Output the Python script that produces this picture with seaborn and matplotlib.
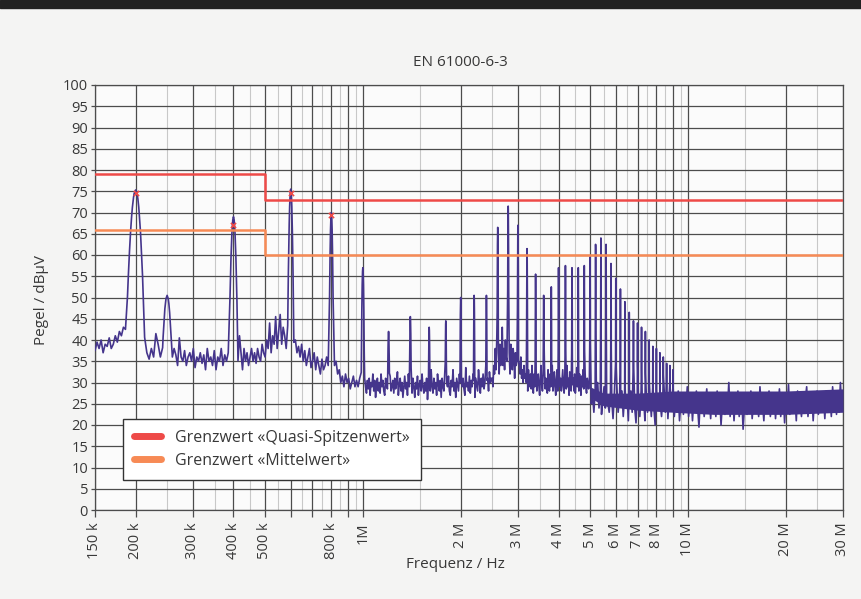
import numpy as np
import pandas as pd
import seaborn as sns
import matplotlib.pyplot as plt
from matplotlib.lines import Line2D
from matplotlib.patches import Rectangle
from matplotlib.ticker import NullFormatter

# limit lines (kHz, dBuV)
qp_freq_khz = [150, 500, 500, 30000]
qp_level = [79, 79, 73, 73]
avg_freq_khz = [150, 500, 500, 30000]
avg_level = [66, 66, 60, 60]

# quasi-peak measurement marks
mark_freq_khz = [200, 400, 600, 800]
mark_level = [74.5, 67, 74.6, 69.3]

# harmonic spikes (kHz, peak dBuV)
peak_freq_khz = [200, 250, 400, 600, 800, 1000, 1200, 1400, 1600, 1800, 2000,
                 2200, 2400, 2600, 2800, 3000, 3200, 3400, 3600, 3800, 4000,
                 4200, 4400, 4600, 4800, 5000, 5200, 5400, 5600, 5800, 6000,
                 6200, 6400, 6600, 6800, 7000, 7200, 7400, 7600, 7800, 8000,
                 8200, 8400, 8600, 8800, 9000]
peak_level = [75.3, 50.5, 69, 75.5, 70, 57, 42, 45.5, 43, 44.5, 50,
              50.5, 50.5, 66.5, 71.5, 67, 61.5, 55.5, 50.5, 52.5, 57,
              57.5, 57, 57, 57.5, 59.5, 62.5, 64, 62.5, 58, 54.5,
              52, 49, 46.5, 44.5, 44, 43, 42, 40, 38.5, 38,
              37, 36, 34.5, 34, 33]

# noise floor, segment by segment (kHz edges)
seg_edges_khz = [150, 200, 250, 400, 600, 800, 1000, 2500, 3200, 5000, 9000, 30000]
floor_a = [37.5, 39.5, 38, 40, 37, 39, 38.5, 40.5, 38, 39, 41, 39.5, 42, 41, 43,
           42.5, 40, 37.5, 38, 38]
floor_b = [38, 36, 35, 42.5, 40, 37, 35.5, 38, 36, 41.5, 39, 36, 35, 36]
floor_c = [36, 37, 35, 36, 38, 36.5, 34, 40.5, 36, 35, 37.5, 34, 36, 37, 35, 38,
           33.5, 36, 35, 37, 34.5, 36.5, 33, 38, 35, 36, 34, 37.5, 33, 36, 35, 38,
           34, 36.5, 35, 37, 34, 36]
floor_d = [36, 39, 40, 35, 41, 37, 33, 38, 35, 37, 34, 36, 38, 35, 37, 34.5, 38,
           36, 35, 39, 37, 36, 40, 38, 44, 37, 41, 39, 45.5, 38, 42, 46, 39, 43,
           41, 38, 36, 39]
floor_e = [40, 41.5, 39, 40, 37, 38.5, 36, 39, 35, 37.5, 34, 36, 38, 33.5, 35, 37,
           33, 36, 34, 32, 35.5, 33, 34, 36, 34, 35]
floor_f = [36, 37, 34, 35, 32, 33, 30, 31.5, 29, 32, 30, 31, 28.5, 30, 31.5, 29,
           30.5, 29, 31, 30]
floor_g = [30, 28, 31, 29, 27.5, 30.5, 28.5, 31, 27, 30, 29, 32, 28, 30.5, 26.5,
           29.5, 31, 28, 30, 27.5, 32, 29, 30.5, 28, 27, 31, 29.5, 28.5, 30, 26,
           31.5, 28, 29, 30.5, 27.5, 31, 28.5, 30, 32.5, 27, 29.5, 31, 28, 30,
           26.5, 29, 31.5, 28.5, 30, 27, 32, 29, 28, 30.5, 27.5, 31, 29, 26.5, 30,
           28.5, 31.5, 27, 29.5, 30.5, 28, 32, 29, 27.5, 30, 28, 31, 26, 29.5,
           30.5, 28, 33, 29, 27.5, 31, 28.5, 30, 27, 32, 29.5, 28, 30.5, 26.5, 31,
           29, 28, 32.5, 27.5, 30, 29, 31.5, 28, 27, 30.5, 29, 33, 28, 30, 26.5,
           31, 29.5, 28, 32, 27.5, 30, 29, 31, 28.5, 27, 33.5, 29, 30, 28, 31.5,
           27.5, 30.5, 29, 32, 28, 26.5, 31, 29.5, 28, 33, 30, 27.5, 31, 29, 32,
           28.5, 30, 34, 29, 31, 28, 32.5, 30, 31]
floor_h = [31, 29, 34, 32, 38, 33, 41, 35, 37, 32, 39, 34, 36, 43, 34, 38, 33, 40,
           36, 35, 42, 34, 37, 32, 39, 35, 33, 38, 36, 31, 37, 34, 35, 33, 30, 34,
           32, 36, 31, 33, 30, 34, 31, 32, 30]
floor_i = [31, 28, 33, 30, 29, 32, 28.5, 34, 30, 27.5, 32, 29, 31, 33, 28, 30.5,
           32, 29, 27, 31, 34, 29.5, 28, 32, 30, 33, 28.5, 31, 29, 27.5, 33, 30,
           28, 32, 29, 31.5, 34, 28, 30, 32.5, 29, 27, 31, 33, 28, 30, 32, 29, 31,
           28, 30.5, 33, 29, 27.5, 32, 30, 28.5, 34, 29, 31, 27, 32.5, 30, 28, 33,
           29.5, 31, 28, 32, 27.5, 30, 33.5, 29, 31, 28, 32, 30, 27, 31.5, 29, 33,
           28.5, 30, 32, 29, 27.5, 31, 30, 28.5, 30]
floor_j = [29, 25, 27, 23, 28, 26, 30, 24, 27, 22.5, 26, 29, 24, 27.5, 25, 23, 28,
           26, 21.5, 27, 24.5, 29, 23, 26, 25, 28, 22, 26.5, 24, 27, 21, 25.5, 28,
           23, 26, 24, 20.5, 27, 25, 22, 28, 24, 26, 21, 27.5, 23, 25, 26.5, 22,
           28, 24, 20, 26, 23.5, 27, 25, 22, 26, 28.5, 23, 25, 21.5, 27, 24, 26]
floor_k = [27, 22, 26, 23, 28, 21, 25, 27.5, 22.5, 26, 24, 29, 22, 25.5, 27, 21,
           26, 23, 28, 24, 19.5, 26.5, 23, 27, 22, 25, 28.5, 23.5, 26, 21.5, 27,
           24, 25.5, 22, 28, 23, 26.5, 20, 25, 27, 22.5, 26, 24, 30, 22, 25, 27.5,
           21, 26, 23.5, 28, 22, 25, 26.5, 19, 24, 27, 22.5, 26, 23, 28, 21.5,
           25.5, 27, 23, 26, 22, 29, 24, 25, 21, 27, 23.5, 26, 28, 22, 25, 24,
           27.5, 21.5, 26, 23, 28.5, 22, 25.5, 27, 20.5, 26, 24, 29.5, 22.5, 25,
           27, 23, 26.5, 21, 28, 24, 25, 22, 27, 23.5, 26, 29, 22, 25.5, 24, 27.5,
           21, 26, 23, 28, 22.5, 25, 27, 24, 26.5, 21.5, 28, 23, 25, 27, 22, 29,
           24, 26, 22.5, 28, 23, 30, 24, 27]

# solid core of the dense noise above 5 MHz (where the trace looks filled)
band_freq_khz = [5000, 5500, 7000, 9000, 12000, 20000, 30000]
band_lo = [26.5, 24.5, 23.5, 23, 22.5, 22.5, 23]
band_hi = [29, 27.5, 27.5, 28, 28, 28, 28.5]

xtick_khz = [150, 200, 300, 400, 500, 600, 700, 800, 900, 1000, 2000, 3000, 4000,
             5000, 6000, 7000, 8000, 9000, 10000, 20000, 30000]
xtick_labels = ["150 k", "200 k", "300 k", "400 k", "500 k", "", "", "800 k", "",
                "1M", "2 M", "3 M", "4 M", "5 M", "6 M", "7 M", "8 M", "",
                "10 M", "20 M", "30 M"]
xminor_khz = [250, 350, 450, 550, 650, 750, 850, 950, 1500, 2500, 3500, 4500,
              5500, 6500, 7500, 8500, 9500, 15000, 25000]

trace_color = "#45358c"
qp_color = "#ee4a48"
avg_color = "#f78a55"
text_color = "#383838"

# --- build trace: floor samples plus RBW-shaped spikes
floor_parts = [floor_a, floor_b, floor_c, floor_d, floor_e, floor_f, floor_g,
               floor_h, floor_i, floor_j, floor_k]
ff, fv = [], []
for i, vals in enumerate(floor_parts):
    last = i == len(floor_parts) - 1
    ff.append(np.geomspace(seg_edges_khz[i], seg_edges_khz[i + 1], len(vals), endpoint=last))
    fv.append(np.array(vals, dtype=float))
ff = np.concatenate(ff)
fv = np.concatenate(fv)

pk_f = np.array(peak_freq_khz, dtype=float)
pk_v = np.array(peak_level, dtype=float)
curv = 0.2  # dB per kHz^2 (filter shape)


def spike_env(f):
    d = f[:, None] - pk_f[None, :]
    return (pk_v[None, :] - curv * d ** 2).max(axis=1)


floor_vals = np.maximum(fv, spike_env(ff))
offs = np.array([-14, -10, -7, -4.5, -2, 0, 2, 4.5, 7, 10, 14])
sf = (pk_f[:, None] + offs[None, :]).ravel()
sv = spike_env(sf)
keep = sv > np.interp(sf, ff, fv)

trace = pd.DataFrame({
    "freq": np.concatenate([ff, sf[keep]]) * 1e3,
    "level": np.concatenate([floor_vals, sv[keep]]),
}).sort_values("freq")

limits = pd.DataFrame({
    "freq": np.array(qp_freq_khz + avg_freq_khz) * 1e3,
    "level": qp_level + avg_level,
    "kind": ["qp"] * 4 + ["avg"] * 4,
})

sns.set_theme(style="white")
plt.rcParams["font.family"] = ["Open Sans", "DejaVu Sans"]

fig = plt.figure(figsize=(8.62, 5.99), dpi=100, facecolor="#f4f4f3")
ax = fig.add_axes([95 / 862, 1 - 510 / 599, 748 / 862, 425 / 599])
ax.set_facecolor("#fbfbfb")
ax.set_xscale("log")

ax.fill_between(np.array(band_freq_khz) * 1e3, band_lo, band_hi,
                color=trace_color, lw=0, zorder=3)
sns.lineplot(data=trace, x="freq", y="level", estimator=None, sort=False,
             color=trace_color, lw=1.2, ax=ax, zorder=3)
sns.lineplot(data=limits[limits.kind == "qp"], x="freq", y="level", estimator=None,
             sort=False, color=qp_color, lw=1.8, ax=ax, zorder=4)
sns.lineplot(data=limits[limits.kind == "avg"], x="freq", y="level", estimator=None,
             sort=False, color=avg_color, lw=1.8, ax=ax, zorder=4)
ax.scatter(np.array(mark_freq_khz) * 1e3, mark_level, marker="x", s=14,
           color=qp_color, lw=1.2, zorder=5)

ax.set_xlim(150e3, 30e6)
ax.set_ylim(0, 100)
ax.set_xticks(np.array(xtick_khz) * 1e3)
ax.set_xticklabels(xtick_labels)
ax.set_xticks(np.array(xminor_khz) * 1e3, minor=True)
ax.xaxis.set_minor_formatter(NullFormatter())
ax.set_yticks(range(0, 101, 5))
ax.set_yticklabels([str(v) for v in range(0, 101, 5)])

ax.grid(True, which="major", color="#4c4c4c", lw=0.9)
ax.grid(True, which="minor", axis="x", color="#c8c8c8", lw=0.8)
ax.tick_params(axis="x", which="major", direction="out", length=5, width=0.9,
               color="#4c4c4c", labelrotation=90, labelsize=10.5,
               labelcolor=text_color, pad=4, bottom=True)
ax.tick_params(axis="x", which="minor", length=0)
ax.tick_params(axis="y", direction="out", length=3, width=0.9, color="#4c4c4c",
               labelsize=10.5, labelcolor=text_color, pad=2, left=True)
for s in ax.spines.values():
    s.set_color("#4c4c4c")
    s.set_linewidth(0.9)
ax.set_xlabel("")
ax.set_ylabel("")

fig.text(460 / 862, 1 - 62 / 599, "EN 61000-6-3", ha="center", va="center",
         fontsize=11, color=text_color)
fig.text(455 / 862, 1 - 565 / 599, "Frequenz / Hz", ha="center", va="center",
         fontsize=11, color=text_color)
fig.text(42 / 862, 1 - 300 / 599, "Pegel / dBµV", ha="center", va="center",
         rotation=90, fontsize=11, color=text_color)

handles = [Line2D([0], [0], color=qp_color, lw=5),
           Line2D([0], [0], color=avg_color, lw=5)]
leg = ax.legend(handles, ["Grenzwert «Quasi-Spitzenwert»", "Grenzwert «Mittelwert»"],
                loc="lower left", bbox_to_anchor=(0.037, 0.07), fontsize=11.5,
                frameon=True, fancybox=False, framealpha=1, edgecolor="#333333",
                borderpad=0.7, labelspacing=0.45, handlelength=1.7,
                handletextpad=0.9, borderaxespad=0)
leg.get_frame().set_linewidth(1.0)
for t in leg.get_texts():
    t.set_color(text_color)
leg.set_zorder(6)

fig.patches.append(Rectangle((0, 1 - 8 / 599), 1, 8 / 599, transform=fig.transFigure,
                             color="#222222", zorder=0))

fig.savefig("out.png", dpi=100, facecolor=fig.get_facecolor())
